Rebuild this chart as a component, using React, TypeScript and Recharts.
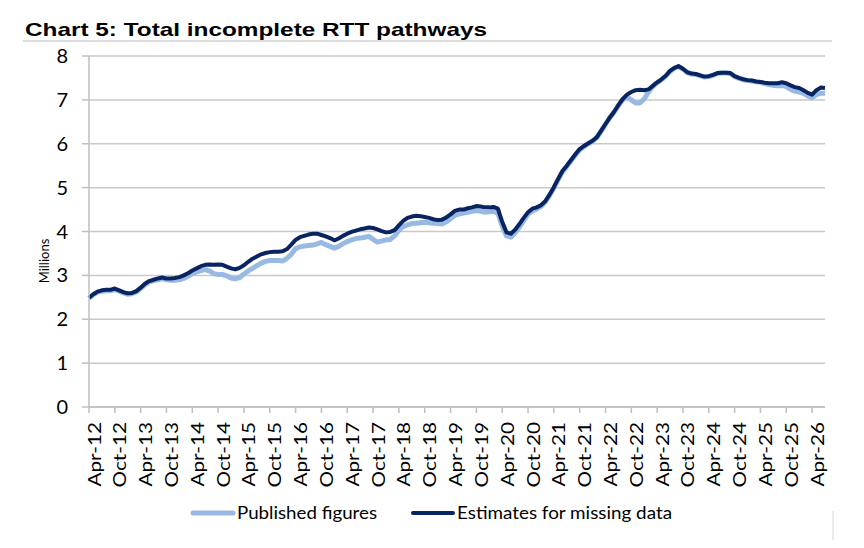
import React from 'react';
import { LineChart, Line, XAxis, YAxis, CartesianGrid } from 'recharts';

// months run Apr-12 .. Jul-26
const MONTH_NAMES = ['Jan', 'Feb', 'Mar', 'Apr', 'May', 'Jun', 'Jul', 'Aug', 'Sep', 'Oct', 'Nov', 'Dec'];
const START_YEAR = 2012;
const START_MONTH = 3; // April
const Y_TICKS = [0, 1, 2, 3, 4, 5, 6, 7, 8];

// millions
const PUBLISHED = [
  2.48, 2.56, 2.62, 2.64, 2.65, 2.65, 2.68, 2.64, 2.60, 2.57, 2.58, 2.62,
  2.70, 2.79, 2.85, 2.88, 2.90, 2.92, 2.90, 2.89, 2.89, 2.90, 2.93, 2.98,
  3.04, 3.08, 3.11, 3.13, 3.10, 3.04, 3.02, 3.02, 2.99, 2.94, 2.92, 2.95,
  3.03, 3.10, 3.16, 3.22, 3.28, 3.32, 3.34, 3.34, 3.34, 3.33, 3.39, 3.48,
  3.61, 3.65, 3.67, 3.68, 3.69, 3.72, 3.75, 3.70, 3.66, 3.62, 3.66, 3.72,
  3.77, 3.81, 3.84, 3.85, 3.87, 3.89, 3.82, 3.76, 3.78, 3.81, 3.82, 3.90,
  4.03, 4.11, 4.15, 4.18, 4.19, 4.20, 4.21, 4.20, 4.19, 4.18, 4.17, 4.22,
  4.29, 4.37, 4.40, 4.42, 4.44, 4.46, 4.48, 4.46, 4.44, 4.45, 4.46, 4.42,
  4.12, 3.90, 3.87, 3.97, 4.10, 4.25, 4.39, 4.47, 4.51, 4.57, 4.67, 4.82,
  4.99, 5.18, 5.36, 5.48, 5.61, 5.74, 5.86, 5.93, 6.00, 6.06, 6.14, 6.29,
  6.44, 6.59, 6.72, 6.87, 7.00, 7.06, 7.00, 6.93, 6.93, 7.02, 7.18, 7.31,
  7.39, 7.46, 7.54, 7.65, 7.72, 7.76, 7.70, 7.62, 7.59, 7.58, 7.55, 7.52,
  7.53, 7.56, 7.60, 7.61, 7.61, 7.60, 7.53, 7.49, 7.46, 7.44, 7.43, 7.41,
  7.40, 7.37, 7.35, 7.33, 7.32, 7.33, 7.30, 7.24, 7.20, 7.18, 7.15, 7.09,
  7.05, 7.12, 7.15, 7.15,
];

const ESTIMATES = [
  2.49, 2.57, 2.63, 2.66, 2.67, 2.67, 2.70, 2.66, 2.62, 2.59, 2.60, 2.64,
  2.72, 2.81, 2.87, 2.90, 2.93, 2.95, 2.93, 2.93, 2.94, 2.96, 3.00, 3.05,
  3.11, 3.16, 3.21, 3.24, 3.25, 3.24, 3.25, 3.24, 3.20, 3.16, 3.14, 3.17,
  3.23, 3.31, 3.38, 3.43, 3.48, 3.51, 3.53, 3.54, 3.54, 3.55, 3.60, 3.70,
  3.81, 3.87, 3.90, 3.93, 3.95, 3.95, 3.92, 3.89, 3.85, 3.80, 3.84, 3.90,
  3.95, 3.99, 4.02, 4.05, 4.07, 4.09, 4.08, 4.05, 4.01, 3.98, 3.99, 4.03,
  4.14, 4.24, 4.31, 4.34, 4.36, 4.35, 4.33, 4.31, 4.28, 4.26, 4.27, 4.32,
  4.39, 4.47, 4.50, 4.50, 4.53, 4.55, 4.58, 4.57, 4.55, 4.55, 4.56, 4.52,
  4.22, 3.98, 3.95, 4.04, 4.17, 4.31, 4.44, 4.52, 4.55, 4.60, 4.69, 4.84,
  5.01, 5.20, 5.38, 5.50, 5.63, 5.76, 5.88, 5.95, 6.01, 6.07, 6.15, 6.30,
  6.45, 6.60, 6.73, 6.88, 7.02, 7.12, 7.18, 7.22, 7.23, 7.22, 7.24, 7.32,
  7.40, 7.47, 7.55, 7.66, 7.73, 7.77, 7.71, 7.63, 7.60, 7.59, 7.56, 7.53,
  7.54, 7.57, 7.61, 7.62, 7.62, 7.61, 7.54, 7.50, 7.47, 7.45, 7.44, 7.42,
  7.41, 7.39, 7.38, 7.38, 7.38, 7.40, 7.38, 7.33, 7.29, 7.27, 7.22, 7.16,
  7.12, 7.22, 7.28, 7.27,
];

const SERIES = [
  { key: 'published', name: 'Published figures', color: '#98BAE2', width: 5 },
  { key: 'estimates', name: 'Estimates for missing data', color: '#082463', width: 4 },
];

const monthLabel = (i: number) => {
  const m = START_MONTH + i;
  const year = START_YEAR + Math.floor(m / 12);
  return `${MONTH_NAMES[m % 12]}-${String(year).slice(2)}`;
};

const data = ESTIMATES.map((v, i) => ({
  month: monthLabel(i),
  published: PUBLISHED[i],
  estimates: v,
}));

const GREY = '#BFBFBF';
const LABEL_FONT = 'Lato, "Noto Sans", sans-serif';

function MonthTick({ x, y, payload }: any) {
  return (
    <text
      transform={`translate(${x},${y}) rotate(-90) scale(1.22,1)`}
      textAnchor="end"
      dy={11.5}
      fontFamily={LABEL_FONT}
      fontSize={17}
      fill="#000"
    >
      {payload.value}
    </text>
  );
}

function MillionsLabel() {
  return (
    <text
      transform="translate(49,261) rotate(-90)"
      textAnchor="middle"
      fontFamily={LABEL_FONT}
      fontSize={13}
      fill="#000"
    >
      Millions
    </text>
  );
}

// legend swatch + text positions
const LEGEND_POS = [
  { x1: 193, x2: 233, tx: 237, tw: 140 },
  { x1: 413, x2: 453, tx: 457, tw: 215 },
];

export default function App() {
  return (
    <div style={{ position: 'fixed', left: 0, top: 0, width: 864, height: 548, background: '#fff' }}>
      <LineChart
        width={864}
        height={548}
        data={data}
        margin={{ top: 56, right: 39, bottom: 51, left: 29 }}
      >
        <CartesianGrid vertical={false} stroke="#C9C9C9" strokeWidth={1.5} />
        <XAxis
          dataKey="month"
          interval={5}
          height={90}
          tickSize={6}
          tickMargin={9}
          axisLine={{ stroke: GREY, strokeWidth: 1.5 }}
          tickLine={{ stroke: GREY, strokeWidth: 1.5 }}
          tick={<MonthTick />}
        />
        <YAxis
          type="number"
          domain={[0, 8]}
          ticks={Y_TICKS}
          width={60}
          tickSize={7}
          tickMargin={14}
          axisLine={{ stroke: GREY, strokeWidth: 1.5 }}
          tickLine={{ stroke: GREY, strokeWidth: 1.5 }}
          tick={{ fontFamily: LABEL_FONT, fontSize: 20, fill: '#000' }}
          label={<MillionsLabel />}
        />
        {SERIES.map((s) => (
          <Line
            key={s.key}
            type="linear"
            dataKey={s.key}
            name={s.name}
            stroke={s.color}
            strokeWidth={s.width}
            strokeLinejoin="round"
            dot={false}
            activeDot={false}
            isAnimationActive={false}
          />
        ))}
      </LineChart>

      <svg width={864} height={548} style={{ position: 'absolute', left: 0, top: 0, pointerEvents: 'none' }}>
        <text
          x={25}
          y={36}
          fontFamily='"Liberation Sans", Arial, sans-serif'
          fontWeight="bold"
          fontSize={18.5}
          textLength={462}
          lengthAdjust="spacingAndGlyphs"
          fill="#000"
        >
          Chart 5: Total incomplete RTT pathways
        </text>
        <line x1={23} x2={832} y1={41} y2={41} stroke="#DCDCDC" strokeWidth={2} />
        {SERIES.map((s, i) => (
          <g key={s.key}>
            <line x1={LEGEND_POS[i].x1} x2={LEGEND_POS[i].x2} y1={513} y2={513} stroke={s.color} strokeWidth={s.width} strokeLinecap="round" />
            <text
              x={LEGEND_POS[i].tx}
              y={518.5}
              fontFamily={LABEL_FONT}
              fontSize={18}
              textLength={LEGEND_POS[i].tw}
              lengthAdjust="spacingAndGlyphs"
              fill="#000"
            >
              {s.name}
            </text>
          </g>
        ))}
        <line x1={833} x2={833} y1={511} y2={540} stroke="#D9D9D9" strokeWidth={1} />
      </svg>
    </div>
  );
}
